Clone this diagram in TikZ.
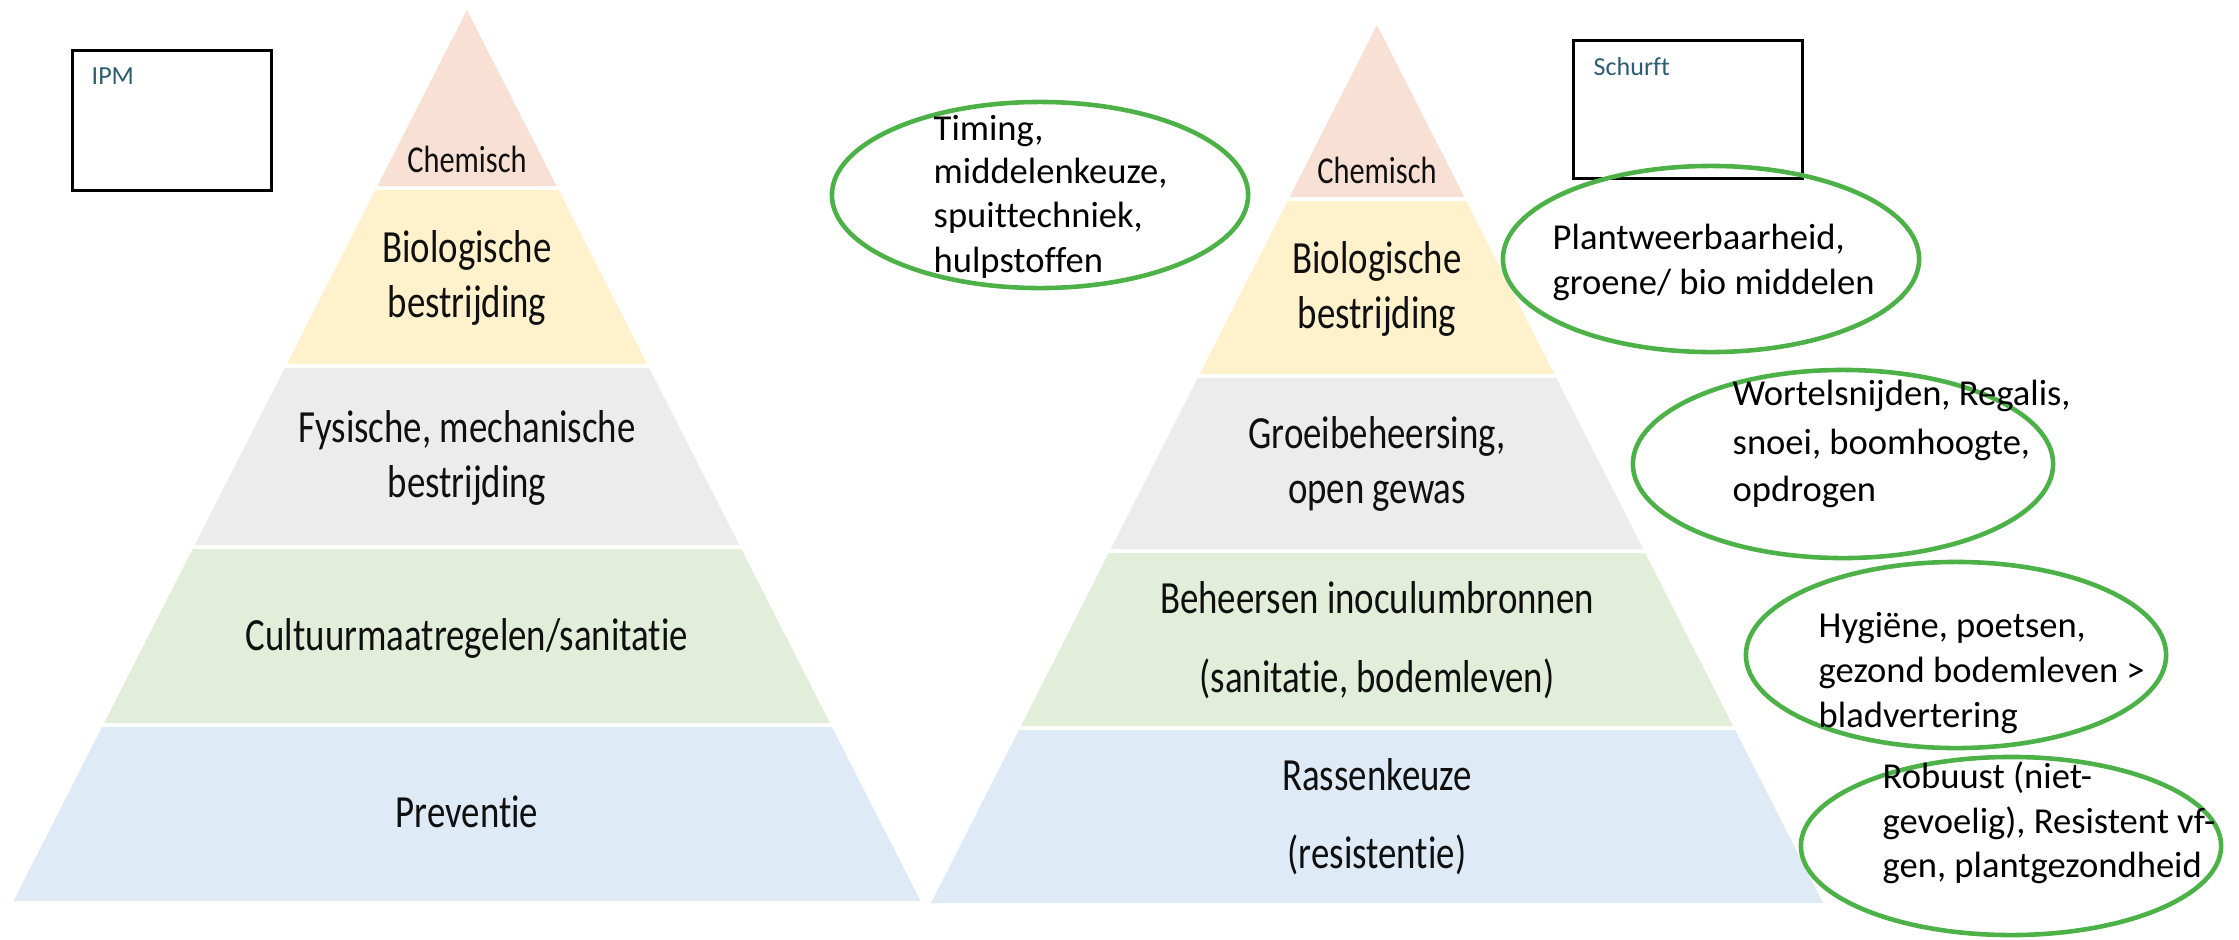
\documentclass[tikz,border=0pt]{standalone}
\usepackage{fontspec}
\setmainfont{Carlito}[Ligatures={NoCommon}]
\newfontfamily\pyrfont[FakeStretch=0.8,Ligatures={NoCommon}]{Carlito}
\usetikzlibrary{shapes.geometric}
\definecolor{cChem}{RGB}{248,224,212}
\definecolor{cBio}{RGB}{255,241,204}
\definecolor{cFys}{RGB}{236,236,236}
\definecolor{cCult}{RGB}{226,238,218}
\definecolor{cPrev}{RGB}{222,234,246}
\definecolor{cGreen}{RGB}{76,178,72}
\definecolor{cLabel}{RGB}{44,94,112}
\definecolor{cText}{RGB}{15,15,15}
\newcommand{\pyrband}[6]{%
  \pgfmathsetmacro{\hA}{#5*(#3-#2)}%
  \pgfmathsetmacro{\hB}{#5*(#4-#2)}%
  \fill[#6] ({#1-\hA},#3) -- ({#1+\hA},#3) -- ({#1+\hB},#4) -- ({#1-\hB},#4) -- cycle;}
\tikzset{
  pyrtxt/.style={font=\pyrfont\fontsize{13.1pt}{15pt}\selectfont, text=cText, inner sep=0pt, anchor=base},
  pyrsmall/.style={pyrtxt, font=\pyrfont\fontsize{10.8pt}{13pt}\selectfont},
  oval/.style={ellipse, draw=cGreen, line width=1.3pt, inner sep=0pt, minimum width=4.16cm, minimum height=1.86cm},
  etxt/.style={font=\fontsize{10.4pt}{12.5pt}\selectfont, text=black, inner sep=0pt, anchor=base west},
  framebox/.style={draw=black, line width=0.85pt, fill=white, inner sep=0pt, anchor=north west},
  boxlabel/.style={font=\fontsize{7.4pt}{9pt}\selectfont, text=cLabel, inner sep=0pt, anchor=base west}
}
\begin{document}
\begin{tikzpicture}[x=0.01cm,y=-0.01cm]
\useasboundingbox (0,0) rectangle (2239,939);
\fill[white] (0,0) rectangle (2239,939);

% left pyramid
\pyrband{467}{10}{10}{186}{0.509}{cChem}
\pyrband{467}{10}{190}{364}{0.509}{cBio}
\pyrband{467}{10}{368}{545}{0.509}{cFys}
\pyrband{467}{10}{549}{723}{0.509}{cCult}
\pyrband{467}{10}{727}{901}{0.509}{cPrev}

% right pyramid
\pyrband{1377}{25}{25}{197}{0.508}{cChem}
\pyrband{1377}{25}{201}{374}{0.508}{cBio}
\pyrband{1377}{25}{378}{549}{0.508}{cFys}
\pyrband{1377}{25}{553}{726}{0.508}{cCult}
\pyrband{1377}{25}{730}{903}{0.508}{cPrev}

% left pyramid labels
\node[pyrsmall] (lchem) at (467,172) {Chemisch};
\node[pyrtxt] (lbio1) at (467,262) {Biologische};
\node[pyrtxt] (lbio2) at (467,317) {bestrijding};
\node[pyrtxt] (lfys1) at (467,442) {Fysische, mechanische};
\node[pyrtxt] (lfys2) at (467,497) {bestrijding};
\node[pyrtxt] (lcult) at (467,650) {Cultuurmaatregelen/sanitatie};
\node[pyrtxt] (lprev) at (467,827) {Preventie};

% right pyramid labels
\node[pyrsmall] (rchem) at (1377,183) {Chemisch};
\node[pyrtxt] (rbio1) at (1377,273) {Biologische};
\node[pyrtxt] (rbio2) at (1377,328) {bestrijding};
\node[pyrtxt] (rgro1) at (1377,448) {Groeibeheersing,};
\node[pyrtxt] (rgro2) at (1377,503) {open gewas};
\node[pyrtxt] (rbeh1) at (1377,613) {Beheersen inoculumbronnen};
\node[pyrtxt] (rbeh2) at (1377,692) {(sanitatie, bodemleven)};
\node[pyrtxt] (rras1) at (1377,790) {Rassenkeuze};
\node[pyrtxt] (rras2) at (1377,868) {(resistentie)};

% boxes
\node[framebox, minimum width=1.99cm, minimum height=1.40cm] (ipmbox) at (71,49) {};
\node[boxlabel] (ipm) at (91,84) {IPM};
\node[framebox, minimum width=2.29cm, minimum height=1.38cm] (schbox) at (1572,39) {};
\node[boxlabel] (sch) at (1593,75) {Schurft};

% ellipses
\node[oval] (e1) at (1040,195) {};
\node[oval] (e2) at (1711,259) {};
\node[oval, minimum width=4.2cm, minimum height=1.88cm] (e3) at (1843,464) {};
\node[oval, minimum width=4.2cm] (e4) at (1956,655) {};
\node[oval, minimum width=4.2cm, minimum height=1.78cm] (e5) at (2011,846) {};

% ellipse texts
\node[etxt] (t1a) at (933,140) {Timing,};
\node[etxt] (t1b) at (933,183) {middelenkeuze,};
\node[etxt] (t1c) at (933,227) {spuittechniek,};
\node[etxt] (t1d) at (933,272) {hulpstoffen};

\node[etxt] (t2a) at (1552,249) {Plantweerbaarheid,};
\node[etxt] (t2b) at (1552,294) {groene/ bio middelen};

\node[etxt] (t3a) at (1732,405) {Wortelsnijden, Regalis,};
\node[etxt] (t3b) at (1732,454) {snoei, boomhoogte,};
\node[etxt] (t3c) at (1732,501) {opdrogen};

\node[etxt] (t4a) at (1818,637) {Hygiëne, poetsen,};
\node[etxt] (t4b) at (1818,682) {gezond bodemleven >};
\node[etxt] (t4c) at (1818,727) {bladvertering};

\node[etxt] (t5a) at (1882,788) {Robuust (niet-};
\node[etxt] (t5b) at (1882,833) {gevoelig), Resistent vf-};
\node[etxt] (t5c) at (1882,877) {gen, plantgezondheid};
\end{tikzpicture}
\end{document}
